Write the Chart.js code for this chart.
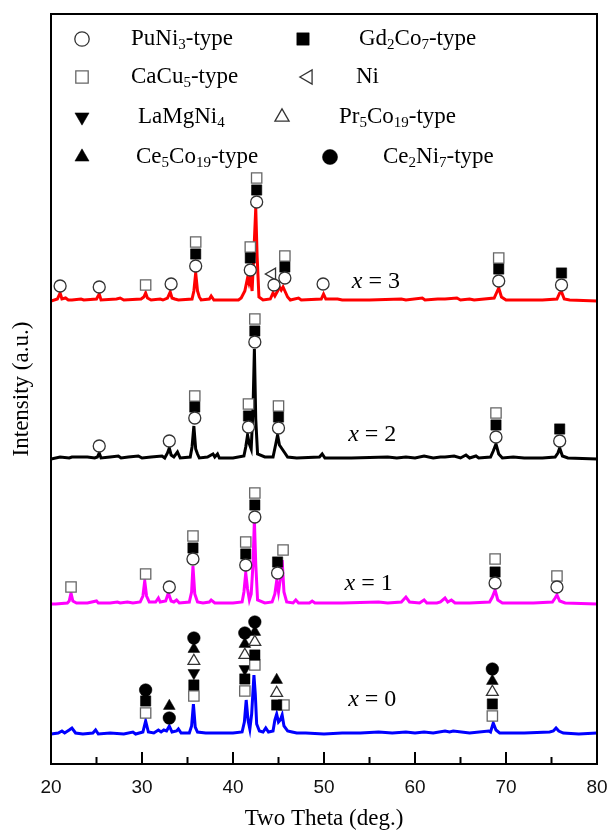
<!DOCTYPE html>
<html>
<head>
<meta charset="utf-8">
<script src="https://cdn.jsdelivr.net/npm/chart.js@4.4.0/dist/chart.umd.min.js"></script>
<style>
    html, body { margin: 0; padding: 0; background: #fff; }
</style>
</head>
<body>
<canvas id="myChart" width="610" height="830"></canvas>
<script>
// XRD patterns, [2theta, intensity above own baseline]
const pattern0 = [
    [20, 0], [20.8, 1], [21.2, 3], [21.5, 1], [22.0, 4], [22.3, 6], [22.7, 1], [23.5, 0], [24.6, 1], [24.9, 4], [25.2, 0],
    [26.5, 1], [28, 0], [29.0, 2], [29.3, 0], [30.1, 2], [30.4, 13], [30.7, 2], [31.3, 1], [31.8, 4], [32.1, 2], [32.4, 4],
    [32.7, 3], [33.0, 8], [33.3, 2], [33.8, 3], [34.0, 5], [34.3, 1], [35.2, 1], [35.45, 8], [35.65, 30], [35.85, 7],
    [36.1, 2], [37, 1], [38.5, 1], [40, 1], [41.0, 2], [41.25, 12], [41.45, 34], [41.65, 14], [41.85, 5], [42.05, 20],
    [42.3, 59], [42.45, 40], [42.6, 10], [42.9, 3], [43.3, 2], [43.6, 6], [43.9, 2], [44.4, 3], [44.6, 14], [44.8, 20],
    [45.0, 12], [45.2, 14], [45.4, 19], [45.6, 8], [46.0, 3], [46.5, 2], [47, 1], [48, 1], [50, 0], [52, 1], [54, 1],
    [56, 2], [57.5, 1], [59, 2], [60, 1], [61, 2], [62, 1], [63.3, 3], [63.8, 2], [64.2, 3], [66, 1], [68.1, 3], [68.3, 2],
    [68.6, 11], [68.9, 4], [69.3, 1], [70, 1], [72, 1], [74.8, 2], [75.2, 3], [75.5, 6], [75.8, 3], [76.3, 1], [78, 0], [80, 1]
];
const pattern1 = [
    [20, 0], [20.5, 0], [21.8, 1], [22.0, 3], [22.2, 11], [22.4, 3], [22.8, 1], [24, 1], [25, 3], [25.2, 1], [26.5, 1],
    [27.3, 2], [27.6, 1], [28.4, 2], [29, 1], [29.8, 2], [30.1, 8], [30.3, 23], [30.5, 8], [30.8, 2], [31.5, 2], [31.8, 6],
    [32.0, 2], [32.6, 3], [32.9, 11], [33.2, 3], [33.5, 2], [33.8, 4], [34.1, 1], [35.2, 2], [35.45, 12], [35.6, 38],
    [35.8, 10], [36.1, 2], [36.7, 1], [37.4, 2], [37.6, 4], [38, 1], [40, 1], [41.0, 2], [41.2, 12], [41.4, 31],
    [41.6, 15], [41.8, 4], [42.0, 10], [42.2, 40], [42.35, 84], [42.5, 40], [42.7, 4], [43.5, 1], [44.3, 2], [44.6, 10],
    [44.8, 23], [45.0, 12], [45.2, 25], [45.4, 44], [45.6, 12], [45.9, 2], [46.6, 1], [46.9, 4], [47.2, 1], [48.4, 1],
    [48.7, 3], [49, 1], [52, 1], [56, 2], [57, 1], [58.5, 2], [59.0, 7], [59.4, 2], [60.5, 1], [61, 4], [61.3, 1],
    [62.4, 1], [62.8, 2], [63.3, 6], [63.6, 2], [64, 4], [64.4, 1], [65.5, 1], [66, 1], [68.2, 2], [68.5, 7], [68.8, 14],
    [69.1, 4], [69.6, 1], [71, 1], [73, 1], [75.1, 2], [75.4, 6], [75.6, 9], [75.9, 3], [76.5, 1], [80, 0]
];
const pattern2 = [
    [20, 0], [21.0, 2], [22, 1], [22.3, 2], [24.0, 2], [24.8, 1], [25.1, 2], [25.3, 6], [25.5, 1], [26.5, 2], [27.4, 3],
    [27.7, 1], [28.5, 2], [29.6, 3], [30.0, 1], [31.0, 2], [32.2, 3], [32.5, 1], [32.8, 6], [33.0, 11], [33.2, 4],
    [33.5, 2], [33.9, 7], [34.2, 1], [35.3, 2], [35.5, 12], [35.7, 33], [35.9, 10], [36.1, 5], [36.3, 1], [37.2, 2],
    [37.8, 5], [38.0, 2], [38.3, 5], [38.5, 1], [40, 1], [41.2, 3], [41.4, 12], [41.6, 24], [41.8, 15], [42.0, 10],
    [42.2, 50], [42.35, 110], [42.5, 40], [42.7, 5], [43.5, 2], [44.4, 2], [44.7, 15], [44.9, 24], [45.1, 14], [45.4, 10],
    [45.7, 6], [46, 2], [47, 1], [49.5, 2], [49.8, 5], [50.1, 1], [52, 1], [53, 1], [57, 2], [58, 1], [59, 2], [60, 1],
    [61, 3], [62, 1], [62.8, 2], [63.3, 2], [64.3, 3], [65, 1], [65.6, 4], [66.0, 1], [66.7, 3], [67, 1], [68.3, 2],
    [68.6, 8], [68.9, 15], [69.2, 5], [69.6, 1], [70.8, 2], [72, 1], [74, 1], [75.4, 2], [75.7, 6], [75.9, 11], [76.2, 3],
    [76.8, 1], [80, 0]
];
const pattern3 = [
    [20, 0], [20.7, 2], [21.0, 8], [21.2, 2], [21.6, 3], [21.9, 1], [22.3, 1], [23.3, 2], [23.6, 1], [25.0, 2], [25.3, 7],
    [25.5, 1], [27.2, 2], [27.6, 3], [28, 1], [29.9, 2], [30.2, 4], [30.4, 8], [30.6, 3], [31, 1], [32.0, 2], [32.3, 1],
    [32.8, 3], [33.1, 9], [33.3, 3], [33.6, 2], [34.0, 1], [35.5, 2], [35.7, 10], [35.9, 28], [36.1, 10], [36.3, 4],
    [36.5, 1], [37.4, 2], [37.6, 5], [37.9, 1], [39.5, 1], [40.6, 1], [40.9, 3], [41.3, 10], [41.6, 23], [41.75, 18],
    [41.9, 24], [42.1, 10], [42.3, 50], [42.5, 93], [42.65, 45], [42.85, 4], [43.3, 1], [44.1, 2], [44.4, 8], [44.6, 5],
    [44.9, 10], [45.1, 14], [45.3, 11], [45.5, 14], [45.7, 10], [46.0, 4], [46.3, 1], [47.2, 3], [47.5, 1], [49.7, 2],
    [49.95, 7], [50.2, 2], [51.5, 2], [52, 1], [55, 1], [58.5, 2], [59, 1], [60.8, 3], [61.1, 1], [62.5, 2], [63.3, 2],
    [64.6, 3], [65, 1], [66, 2], [66.5, 1], [68.7, 3], [69.0, 9], [69.2, 13], [69.5, 4], [70, 1], [72, 1], [74, 1],
    [75.6, 2], [75.9, 8], [76.1, 9], [76.4, 2], [77, 1], [80, 0]
];

const sampleNames = ["x = 0", "x = 1", "x = 2", "x = 3"];
const sampleOffsets = [30, 160, 305, 463];

// phase markers, [2theta, intensity]
const puNi3 = [
    [21.0, 478], [25.3, 477], [33.2, 480], [35.9, 498], [41.9, 494], [42.6, 562], [44.5, 479], [45.7, 486], [49.9, 480],
    [69.2, 483], [76.1, 479],
    [25.3, 318], [33.0, 323], [35.8, 346], [41.7, 337], [42.4, 422], [45.0, 336], [68.9, 327], [75.9, 323],
    [33.0, 177], [35.6, 205], [41.4, 199], [42.4, 247], [44.9, 191], [68.8, 181], [75.6, 177]
];
const gd2Co7 = [
    [35.9, 510], [41.9, 506], [42.6, 574], [45.7, 497], [69.2, 495], [76.1, 491],
    [35.8, 357], [41.7, 348], [42.4, 433], [45.0, 347], [68.9, 339], [75.9, 335],
    [35.6, 216], [41.4, 210], [42.4, 259], [44.9, 202], [68.8, 192],
    [30.4, 63], [35.7, 79], [41.3, 85], [42.4, 109], [44.8, 59], [68.5, 60]
];
const caCu5 = [
    [30.4, 479], [35.9, 522], [41.9, 517], [42.6, 586], [45.7, 508], [69.2, 506],
    [35.8, 368], [41.7, 360], [42.4, 445], [45.0, 358], [68.9, 351],
    [22.2, 177], [30.4, 190], [35.6, 228], [41.4, 222], [42.4, 271], [45.5, 214], [68.8, 205], [75.6, 188],
    [30.4, 51], [35.7, 68], [41.3, 73], [42.4, 99], [45.6, 59], [68.5, 48]
];
const ni = [[44.3, 490]];
const laMgNi4 = [[35.7, 91], [41.3, 95]];
const pr5Co19 = [[35.7, 103], [41.3, 109], [42.4, 122], [44.8, 71], [68.5, 72]];
const ce5Co19 = [[33.0, 58], [35.7, 115], [41.3, 120], [42.4, 132], [44.8, 84], [68.5, 83]];
const ce2Ni7 = [[30.4, 74], [33.0, 46], [35.7, 126], [41.3, 131], [42.4, 142], [68.5, 95]];

const xTicks = [20, 30, 40, 50, 60, 70, 80];

const serif = "'Liberation Serif', 'Times New Roman', serif";
const traceColors = ["#0000ff", "#ff00ff", "#000000", "#ff0000"];

function toPoints(arr, offset) {
    return arr.map(p => ({ x: p[0], y: p[1] + offset }));
}

const traces = [pattern0, pattern1, pattern2, pattern3].map((pat, i) => ({
    type: "line",
    label: sampleNames[i],
    data: toPoints(pat, sampleOffsets[i]),
    borderColor: traceColors[i],
    borderWidth: 3,
    pointRadius: 0,
    tension: 0,
    order: 2
}));

function phase(label, arr, style, extra) {
    return Object.assign({
        type: "scatter",
        label: label,
        data: toPoints(arr, 0),
        pointStyle: style,
        legendItem: true,
        order: 1
    }, extra);
}

const openStyle = { backgroundColor: "#fff", borderColor: "#333", pointBorderWidth: 1.3 };
const fillStyle = { backgroundColor: "#000", borderColor: "#000", pointBorderWidth: 0.5 };

const phases = [
    phase("PuNi_3-type", puNi3, "circle", Object.assign({ pointRadius: 6 }, openStyle)),
    phase("Gd_2Co_7-type", gd2Co7, "rect", Object.assign({ pointRadius: 7.3 }, fillStyle)),
    phase("CaCu_5-type", caCu5, "rect", Object.assign({ pointRadius: 7.3 }, openStyle, { borderColor: "#666" })),
    phase("Ni", ni, "triangle", Object.assign({ pointRadius: 6.8, rotation: 270 }, openStyle)),
    phase("LaMgNi_4", laMgNi4, "triangle", Object.assign({ pointRadius: 6.8, rotation: 180 }, fillStyle)),
    phase("Pr_5Co_19-type", pr5Co19, "triangle", Object.assign({ pointRadius: 6.8 }, openStyle)),
    phase("Ce_5Co_19-type", ce5Co19, "triangle", Object.assign({ pointRadius: 6.8 }, fillStyle)),
    phase("Ce_2Ni_7-type", ce2Ni7, "circle", Object.assign({ pointRadius: 6.3 }, fillStyle))
];

// legend placement: [markerX, textX, rowY]
const legendSpots = [
    [82, 131, 39], [303, 359, 39],
    [82, 131, 77], [308, 356, 77],
    [82, 138, 117], [282, 339, 117],
    [82, 136, 157], [330, 383, 157]
];
const legendMarkerScale = 1.2;
// "x = n" text anchors in data units
const sampleLabelAt = [[55.3, 64], [54.9, 180], [55.3, 329], [55.7, 482]];

function drawSubText(ctx, text, x, y, size) {
    const parts = text.split(/_(\d+)/);
    let cx = x;
    parts.forEach((part, i) => {
        if (!part) return;
        const sub = i % 2 === 1;
        ctx.font = (sub ? Math.round(size * 0.65) : size) + "px " + serif;
        ctx.fillText(part, cx, sub ? y + size * 0.28 : y);
        cx += ctx.measureText(part).width;
    });
}

const decorPlugin = {
    id: "decor",
    afterDraw(chart) {
        const { ctx, chartArea: a, scales: { x, y } } = chart;
        ctx.save();
        // frame and inner ticks
        ctx.strokeStyle = "#000";
        ctx.lineWidth = 2;
        ctx.strokeRect(a.left, a.top, a.width, a.height);
        for (let v = x.min; v <= x.max; v += 5) {
            if (v === x.min || v === x.max) continue;
            const px = x.getPixelForValue(v);
            const len = v % 10 === 0 ? 12 : 7;
            ctx.beginPath();
            ctx.moveTo(px, a.bottom);
            ctx.lineTo(px, a.bottom - len);
            ctx.stroke();
        }
        // legend
        const items = chart.data.datasets.filter(d => d.legendItem);
        ctx.textBaseline = "middle";
        ctx.textAlign = "left";
        items.forEach((d, i) => {
            const [mx, tx, ty] = legendSpots[i];
            ctx.fillStyle = d.backgroundColor;
            ctx.strokeStyle = d.borderColor;
            ctx.lineWidth = d.pointBorderWidth;
            Chart.helpers.drawPoint(ctx, {
                pointStyle: d.pointStyle,
                rotation: d.rotation || 0,
                radius: d.pointRadius * legendMarkerScale,
                borderWidth: d.pointBorderWidth
            }, mx, ty);
            ctx.fillStyle = "#000";
            drawSubText(ctx, d.label, tx, ty, 23);
        });
        // sample labels
        sampleNames.forEach((name, i) => {
            const px = x.getPixelForValue(sampleLabelAt[i][0]);
            const py = y.getPixelForValue(sampleLabelAt[i][1]);
            const rest = name.slice(1);
            ctx.font = "italic 24px " + serif;
            const w1 = ctx.measureText("x").width;
            ctx.font = "24px " + serif;
            const w2 = ctx.measureText(rest).width;
            let sx = px - (w1 + w2) / 2;
            ctx.fillStyle = "#000";
            ctx.font = "italic 24px " + serif;
            ctx.fillText("x", sx, py);
            ctx.font = "24px " + serif;
            ctx.fillText(rest, sx + w1, py);
        });
        ctx.restore();
    }
};

const config = {
    data: { datasets: phases.concat(traces) },
    options: {
        responsive: false,
        animation: false,
        layout: { padding: { top: 14, right: 13, left: 0, bottom: 0 } },
        plugins: {
            legend: { display: false },
            tooltip: { enabled: false }
        },
        scales: {
            x: {
                type: "linear",
                min: 20,
                max: 80,
                afterFit: s => { s.height = 66; s.paddingLeft = 0; s.paddingRight = 0; },
                afterBuildTicks: s => { s.ticks = xTicks.map(v => ({ value: v })); },
                grid: { display: false, drawTicks: false },
                border: { display: false },
                ticks: {
                    color: "#111",
                    padding: 12,
                    maxRotation: 0,
                    font: { family: "'Liberation Sans', Arial, sans-serif", size: 19 }
                },
                title: {
                    display: true,
                    text: "Two Theta (deg.)",
                    color: "#000",
                    font: { family: serif, size: 23, lineHeight: 1.0 },
                    padding: { top: 0, bottom: 0 }
                }
            },
            y: {
                type: "linear",
                min: 0,
                max: 750,
                afterFit: s => { s.width = 51; },
                grid: { display: false, drawTicks: false },
                border: { display: false },
                ticks: { display: false },
                title: {
                    display: true,
                    text: "Intensity (a.u.)",
                    color: "#000",
                    font: { family: serif, size: 23, lineHeight: 1.0 },
                    padding: { top: 10, bottom: 0 }
                }
            }
        }
    },
    plugins: [decorPlugin]
};

const myChart = new Chart(document.getElementById("myChart"), config);
</script>
</body>
</html>
